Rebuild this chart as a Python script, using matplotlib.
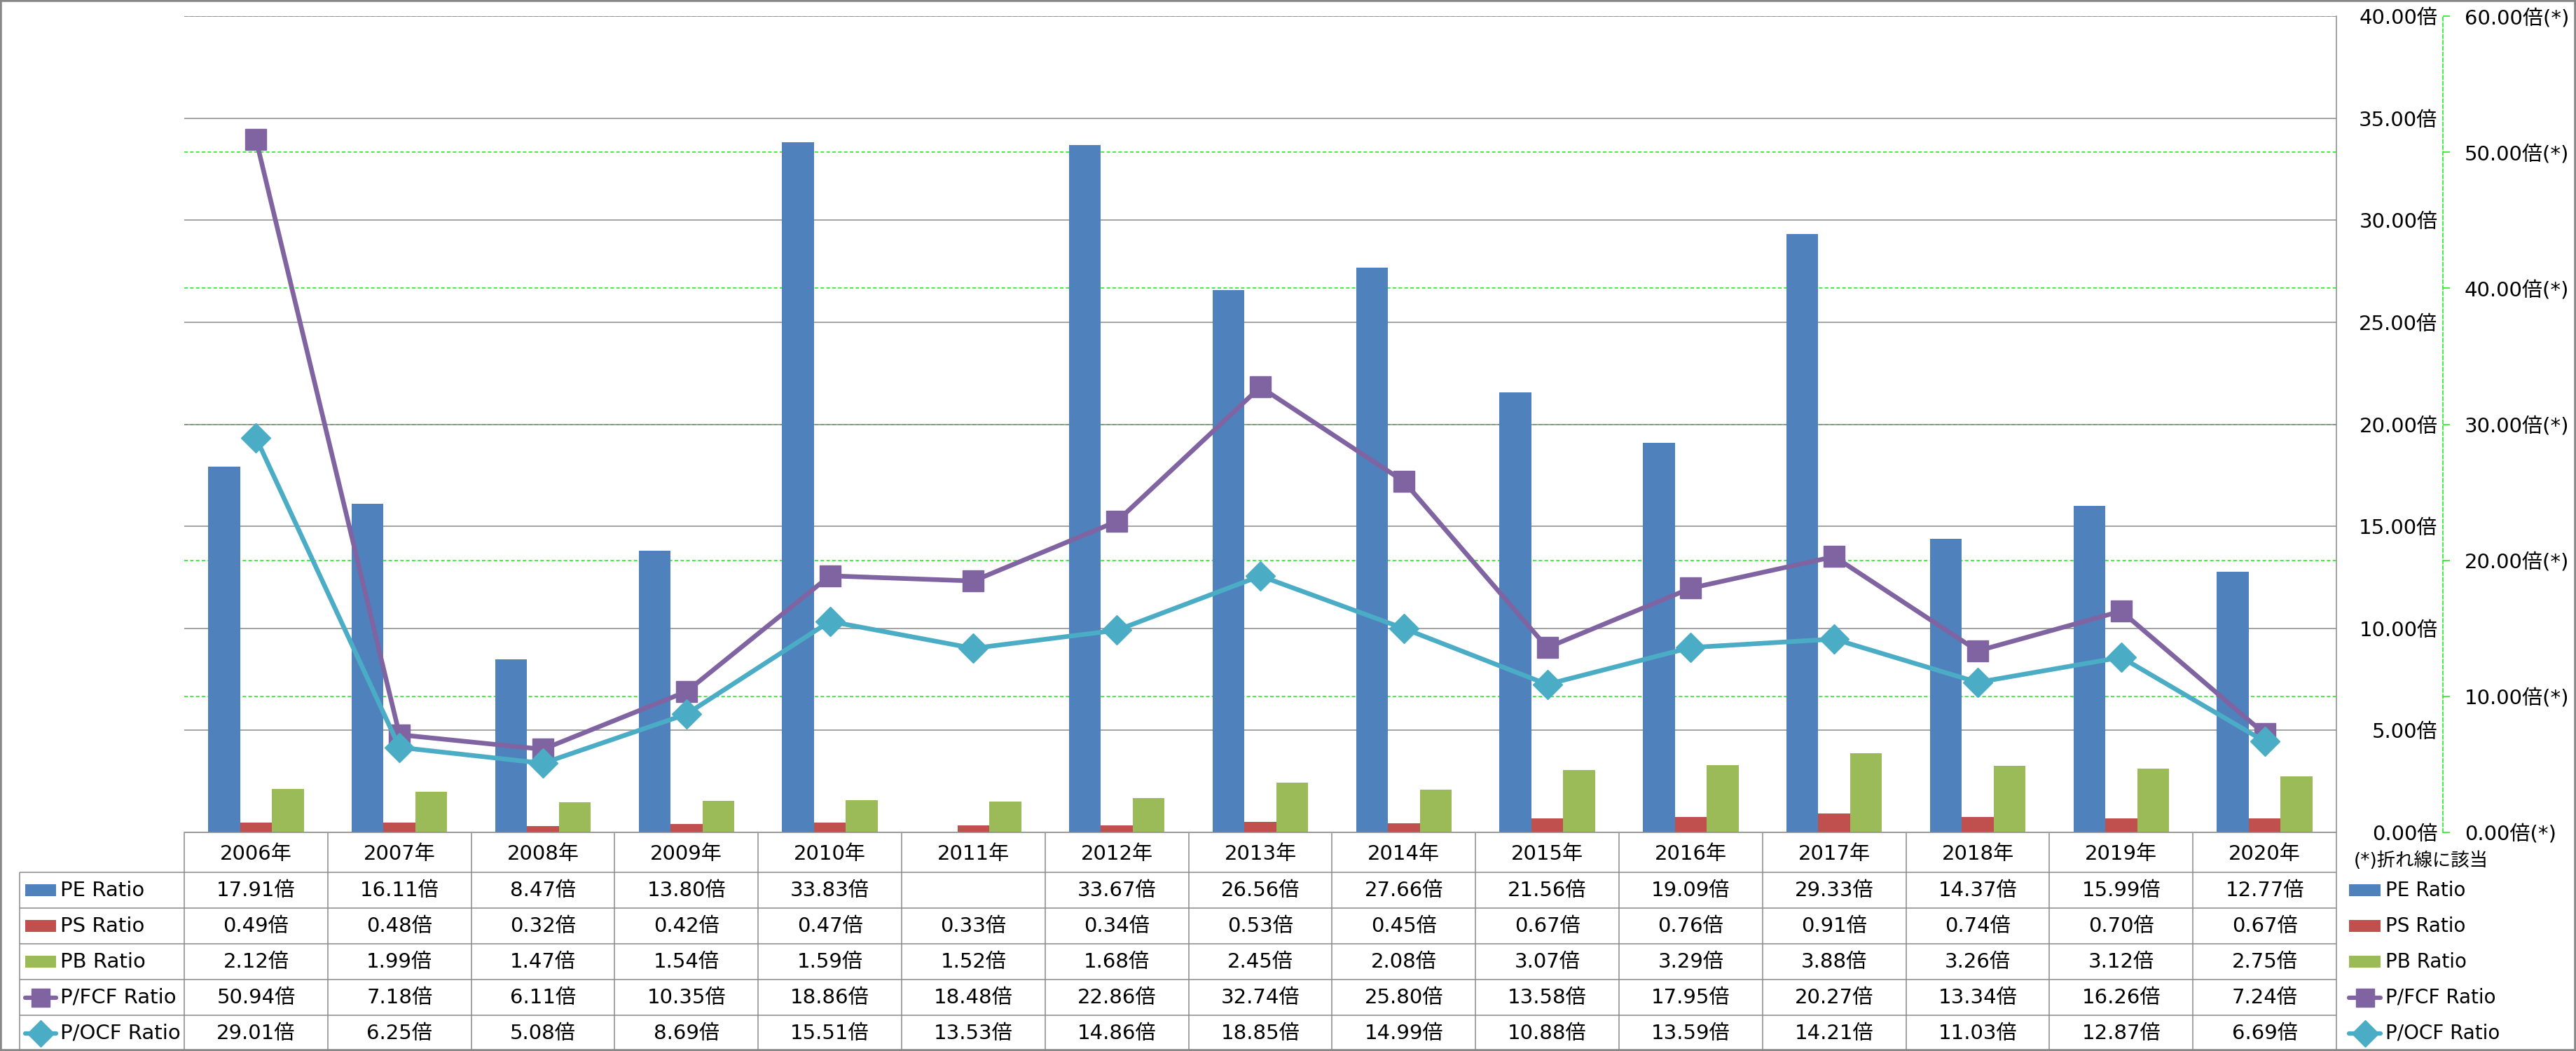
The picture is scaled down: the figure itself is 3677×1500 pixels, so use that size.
import numpy as np
import matplotlib
matplotlib.use("Agg")
import matplotlib.pyplot as plt
from matplotlib.patches import Rectangle

plt.rcParams['font.family'] = ['DejaVu Sans', 'Noto Sans CJK JP']

# data (2011 PE is missing)
years = ["2006年", "2007年", "2008年", "2009年", "2010年", "2011年", "2012年", "2013年",
         "2014年", "2015年", "2016年", "2017年", "2018年", "2019年", "2020年"]
pe_ratio = [17.91, 16.11, 8.47, 13.80, 33.83, np.nan, 33.67, 26.56, 27.66, 21.56,
            19.09, 29.33, 14.37, 15.99, 12.77]
ps_ratio = [0.49, 0.48, 0.32, 0.42, 0.47, 0.33, 0.34, 0.53, 0.45, 0.67,
            0.76, 0.91, 0.74, 0.70, 0.67]
pb_ratio = [2.12, 1.99, 1.47, 1.54, 1.59, 1.52, 1.68, 2.45, 2.08, 3.07,
            3.29, 3.88, 3.26, 3.12, 2.75]
pfcf_ratio = [50.94, 7.18, 6.11, 10.35, 18.86, 18.48, 22.86, 32.74, 25.80, 13.58,
              17.95, 20.27, 13.34, 16.26, 7.24]
pocf_ratio = [29.01, 6.25, 5.08, 8.69, 15.51, 13.53, 14.86, 18.85, 14.99, 10.88,
              13.59, 14.21, 11.03, 12.87, 6.69]

series_names = ["PE Ratio", "PS Ratio", "PB Ratio", "P/FCF Ratio", "P/OCF Ratio"]
left_ticks = [0, 5, 10, 15, 20, 25, 30, 35, 40]
right_ticks = [0, 10, 20, 30, 40, 50, 60]

BLUE, RED, GREEN = '#4f81bd', '#c0504d', '#9bbb59'
PURPLE, CYAN = '#8064a2', '#4bacc6'
GRID = '#8a8a8a'
LIME = '#22ee22'
GLW = 1.1

# layout in pixels
W, H = 3677, 1500
PL, PR = 263, 3335
PT, PB = 23, 1188
n = len(years)
CAT = (PR - PL) / n
FS = 21

fig = plt.figure(figsize=(W / 100, H / 100), dpi=100)

ax = fig.add_axes([PL / W, (H - PB) / H, (PR - PL) / W, (PB - PT) / H])
ax2 = ax.twinx()

x = np.arange(n)
bw = 0.222
ax.bar(x - bw, pe_ratio, bw, color=BLUE, zorder=2)
ax.bar(x, ps_ratio, bw, color=RED, zorder=2)
ax.bar(x + bw, pb_ratio, bw, color=GREEN, zorder=2)

# green dashed grid of the secondary axis, kept behind the bars
ax.hlines(right_ticks[1:], -0.5, n - 0.5, colors=LIME, lw=1.2,
          linestyles=[(0, (3, 2))], transform=ax2.transData, zorder=0.4)
ax.set_xlim(-0.5, n - 0.5)
ax.set_ylim(0, 40)
ax.set_yticks(left_ticks)
ax.set_yticklabels([f"{v:.2f}倍" for v in left_ticks])
ax.yaxis.tick_right()
ax.tick_params(axis='y', length=0, pad=104, labelsize=FS)
for lab in ax.get_yticklabels():
    lab.set_horizontalalignment('right')
ax.set_xticks([])
ax.grid(axis='y', color=GRID, lw=GLW, zorder=0.5)
ax.set_axisbelow(True)
for s in ['left', 'top']:
    ax.spines[s].set_visible(False)
ax.spines['right'].set_color(GRID)
ax.spines['right'].set_linewidth(GLW)
ax.spines['bottom'].set_color(GRID)
ax.spines['bottom'].set_linewidth(GLW)

ax2.plot(x, pfcf_ratio, color=PURPLE, lw=4.8, marker='s', ms=21, zorder=3)
ax2.plot(x, pocf_ratio, color=CYAN, lw=4.8, marker='D', ms=21, zorder=4)
ax2.set_ylim(0, 60)
ax2.set_yticks(right_ticks)
ax2.set_yticklabels([f"{v:.2f}倍(*)" for v in right_ticks])
for s in ['left', 'top', 'bottom']:
    ax2.spines[s].set_visible(False)
ax2.spines['right'].set_position(('outward', 109.4))
ax2.spines['right'].set_color(LIME)
ax2.spines['right'].set_linewidth(1.2)
ax2.spines['right'].set_linestyle((0, (3, 2)))
ax2.tick_params(axis='y', direction='out', length=7.2, width=1.2, color=LIME,
                pad=15, labelsize=FS)

# data table under the plot
TT = 1189
tab = fig.add_axes([0, 0, 1, (H - TT) / H])
tab.set_xlim((0 - PL) / CAT - 0.5, (W - PL) / CAT - 0.5)
tab.set_ylim(6.1, 0)
tab.axis('off')


def tx(px):
    return (px - PL) / CAT - 0.5


row_y = [1.6, 2.6, 3.6, 4.6, 5.6]
tab.vlines(np.arange(n + 1) - 0.5, 0, 6.1, colors=GRID, lw=GLW)
tab.vlines([tx(28)], 1.1, 6.1, colors=GRID, lw=GLW)
tab.hlines([1.1, 2.1, 3.1, 4.1, 5.1], tx(28), n - 0.5, colors=GRID, lw=GLW)

for i, yr in enumerate(years):
    tab.text(i, 0.58, yr, ha='center', va='center', fontsize=FS)

table_vals = [pe_ratio, ps_ratio, pb_ratio, pfcf_ratio, pocf_ratio]
for r, vals in enumerate(table_vals):
    for i, v in enumerate(vals):
        if not np.isnan(v):
            tab.text(i, row_y[r], f"{v:.2f}倍", ha='center', va='center', fontsize=FS)

colors = [BLUE, RED, GREEN, PURPLE, CYAN]
markers = [None, None, None, 's', 'D']


def draw_key(x0, x1, y, c, m):
    if m is None:
        tab.add_patch(Rectangle((tx(x0), y - 0.17), tx(x1) - tx(x0), 0.34,
                                color=c, lw=0))
    else:
        tab.plot([tx(x0), tx(x1)], [y, y], color=c, lw=4.5, solid_capstyle='round')
        tab.plot([(tx(x0) + tx(x1)) / 2], [y], color=c, marker=m, ms=19)


for r, name in enumerate(series_names):
    draw_key(36, 80, row_y[r], colors[r], markers[r])
    tab.text(tx(86), row_y[r], name, ha='left', va='center', fontsize=FS)
    draw_key(3353, 3398, row_y[r], colors[r], markers[r])
    tab.text(tx(3405), row_y[r], name, ha='left', va='center', fontsize=20)

tab.text(tx(3360), 0.78, "(*)折れ線に該当", ha='left', va='center', fontsize=19)

fig.patches.append(Rectangle((0, 0), 1, 1, transform=fig.transFigure, fill=False,
                             ec='#888888', lw=4))

fig.savefig('out.png', dpi=100)
